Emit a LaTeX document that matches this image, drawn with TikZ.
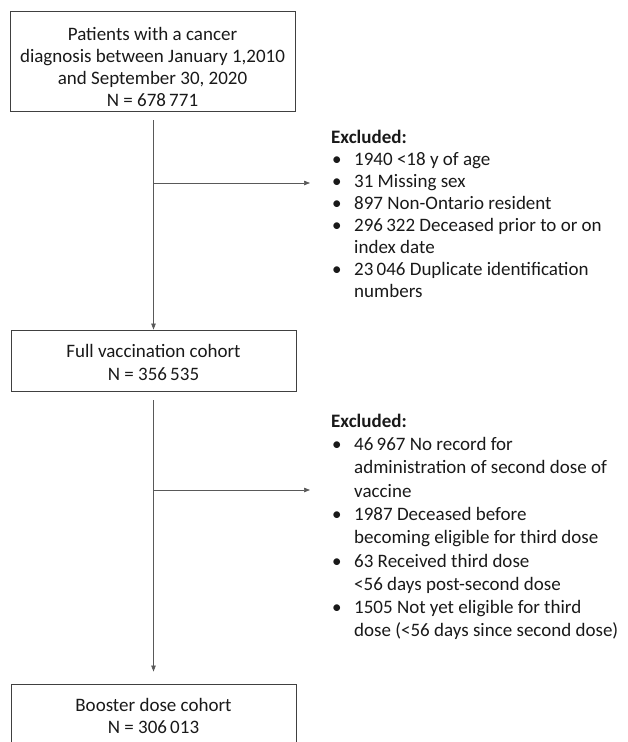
\documentclass[tikz,border=0pt]{standalone}
\usepackage{fontspec}
\setmainfont{Carlito}
\usetikzlibrary{arrows.meta}
\newcommand{\bul}{\makebox[23pt][l]{\kern1pt•}}
\newcommand{\ind}{\hspace*{23pt}}
\begin{document}
\begin{tikzpicture}[x=1pt,y=-1pt,
  every node/.style={text=black!90},
  cbox/.style={draw=black!75, line width=0.9pt, minimum width=285pt, inner sep=0pt, align=center},
  exlist/.style={anchor=north west, inner sep=0pt, align=left},
  arr/.style={draw=black!65, line width=0.7pt, -{Triangle[length=6pt,width=4.5pt]}}]
\useasboundingbox (0,0) rectangle (627,742);
\node[cbox, minimum height=100pt, font=\fontsize{19}{21.7}\selectfont] (b1) at (152.5,61)
  {\rule{0pt}{25.1pt}Patients with a cancer\\diagnosis between January 1,2010\\and September 30, 2020\hspace*{23pt}\\N = 678\,771};
\node[cbox, minimum height=61pt, font=\fontsize{19}{23}\selectfont] (b2) at (153.5,360.5)
  {\rule{0pt}{18pt}Full vaccination cohort\\N = 356\,535};
\node[cbox, minimum height=61pt, font=\fontsize{19}{22}\selectfont] (b3) at (153.5,714.5)
  {\rule{0pt}{17pt}Booster dose cohort\\N = 306\,013};
\node[exlist, font=\fontsize{19}{22.1}\selectfont] (ex1) at (331,128)
  {\rule{0pt}{15pt}\textbf{Excluded:}\\
   \bul 1940 <18 y of age\\
   \bul 31 Missing sex\\
   \bul 897 Non-Ontario resident\\
   \bul 296\,322 Deceased prior to or on\\
   \ind index date\\
   \bul 23\,046 Duplicate identification\\
   \ind numbers};
\node[exlist, font=\fontsize{19}{23.3}\selectfont] (ex2) at (331,412)
  {\rule{0pt}{15pt}\textbf{Excluded:}\\
   \bul 46\,967 No record for\\
   \ind administration of second dose of\\
   \ind vaccine\\
   \bul 1987 Deceased before\\
   \ind becoming eligible for third dose\\
   \bul 63 Received third dose\\
   \ind <56 days post-second dose\\
   \bul 1505 Not yet eligible for third\\
   \ind dose (<56 days since second dose)};
\coordinate (v1s) at (153.5,120);
\coordinate (v2s) at (153.5,400);
\coordinate (h1s) at (153.5,183);
\coordinate (h1e) at (310,183);
\coordinate (h2s) at (153.5,490);
\coordinate (h2e) at (310,490);
\draw[arr] (v1s) -- (b2.north);
\draw[arr, shorten >=12pt] (v2s) -- (b3.north);
\draw[arr] (h1s) -- (h1e);
\draw[arr] (h2s) -- (h2e);
\end{tikzpicture}
\end{document}
